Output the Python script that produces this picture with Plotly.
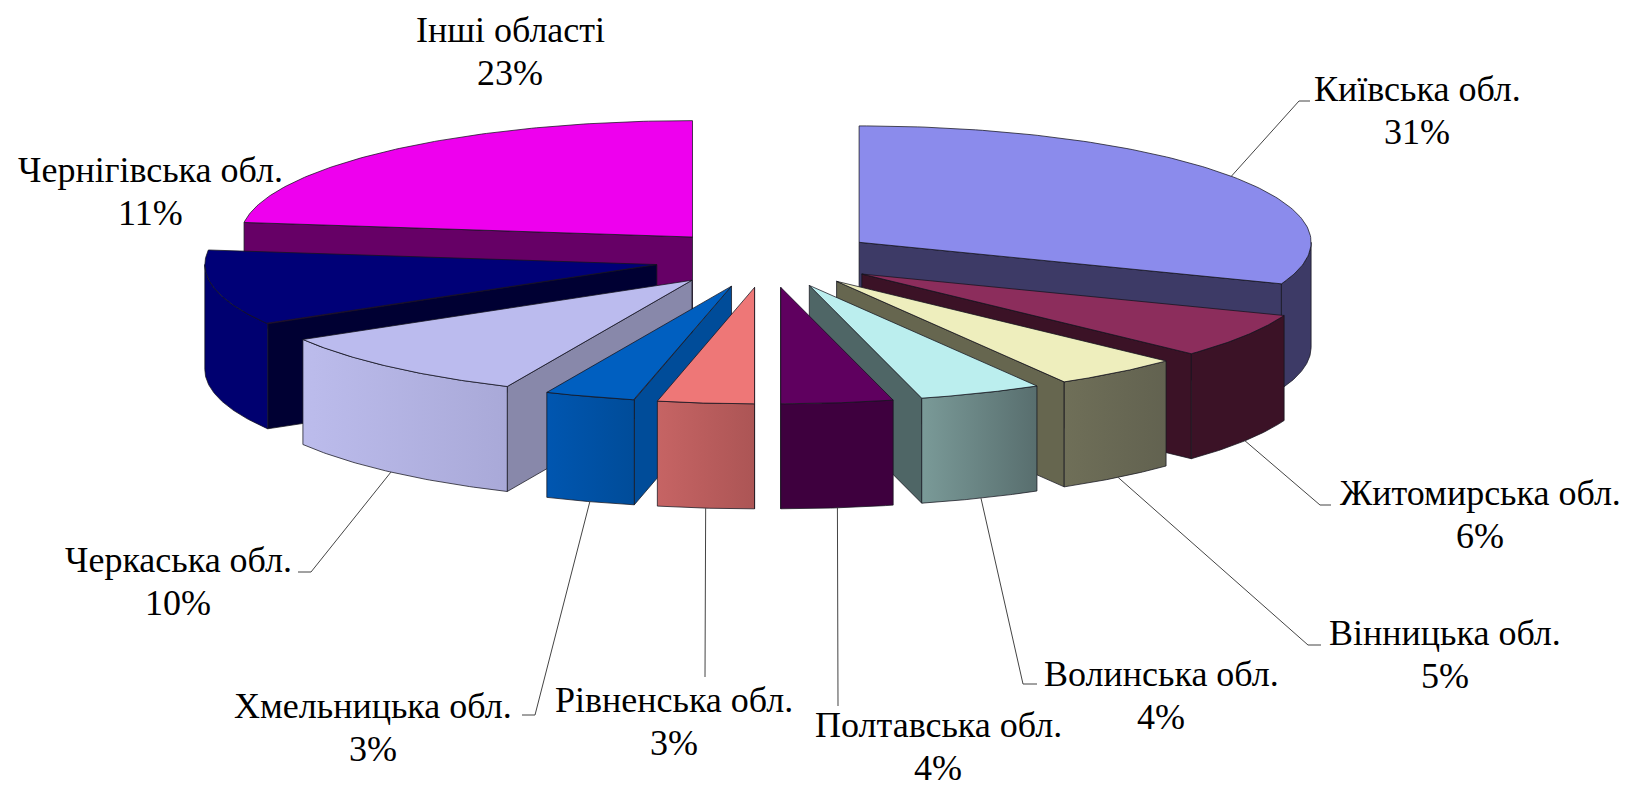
import numpy as np
import plotly.graph_objects as go

regions = ["Київська обл.", "Житомирська обл.", "Вінницька обл.", "Волинська обл.", "Полтавська обл.",
           "Рівненська обл.", "Хмельницька обл.", "Черкаська обл.", "Чернігівська обл.", "Інші області"]
shares = [30.8, 6.2, 4.6, 4.4, 4.0, 3.45, 3.25, 9.8, 10.5, 23.0]
share_labels = ["31%", "6%", "5%", "4%", "4%", "3%", "3%", "10%", "11%", "23%"]

top_colors = ["#8b8bec", "#8c2d5c", "#eeeebd", "#bbeeee", "#5f005f", "#ee7777", "#005fc0", "#bbbbee", "#000077", "#ee00ee"]
side_colors = ["#3d3a66", "#3b1226", "#66664f", "#4f6666", "#3e003e", "#c46262", "#004c99", "#8888aa", "#000033", "#660066"]
rim_left = ["#3d3a66", "#3b1226", "#6f6f58", "#7a9a98", "#3e003e", "#c66464", "#0056b0", "#bcbcec", "#000070", "#660066"]
rim_right = ["#3d3a66", "#3b1226", "#626250", "#586e6e", "#3e003e", "#ac5555", "#004c99", "#a9a9d8", "#000070", "#660066"]

label_xy = [(1417, 110), (1480, 514), (1445, 654), (1161, 695), (938, 746),
            (674, 721), (373, 727), (178, 581), (150, 191), (510, 51)]
leader_elbows = [[(1299, 101), (1310, 101)], [(1320, 505), (1331, 505)], [(1308, 645), (1321, 645)],
                 [(1023, 684), (1037, 684)], [(838, 706)], [(705, 677)],
                 [(535, 715), (522, 715)], [(311, 572), (298, 572)], [], []]

CX, CY, RX, RY, PULL, DEPTH = 766.7, 258.7, 452.0, 116.4, 112.2, 105.0
LINE_GAP = 43
FONT = "Liberation Serif, Times New Roman, serif"
OUTLINE = "rgba(20,20,30,0.75)"


def rim(ax, ay, a_deg, drop=0.0):
    t = np.radians(a_deg)
    return ax + RX * np.sin(t), ay - RY * np.cos(t) + drop


def poly(fig, xs, ys, color=None, grad=None):
    kw = dict(fillcolor=color) if grad is None else dict(
        fillgradient=dict(type="horizontal", colorscale=[[0, grad[0]], [1, grad[1]]]))
    fig.add_trace(go.Scatter(x=list(xs) + [xs[0]], y=list(ys) + [ys[0]], mode="lines", fill="toself",
                             line=dict(color=OUTLINE, width=1), hoverinfo="skip", showlegend=False, **kw))


edges = np.concatenate([[0], np.cumsum(shares)]) / np.sum(shares) * 360.0
mids = (edges[:-1] + edges[1:]) / 2
order = sorted(range(len(shares)), key=lambda i: -abs(mids[i] - 180))

fig = go.Figure()
apexes = []
for i in range(len(shares)):
    m = np.radians(mids[i])
    apexes.append((CX + PULL * np.sin(m), CY - PULL * (RY / RX) * np.cos(m)))

for i in order:
    a0, a1 = edges[i], edges[i + 1]
    ax, ay = apexes[i]
    # the radial cut face that turns towards the viewer
    cut = a1 if mids[i] < 180 else a0
    px, py = rim(ax, ay, cut)
    poly(fig, [ax, px, px, ax], [ay, py, py + DEPTH, ay + DEPTH], side_colors[i])
    # the curved outer face on the front half
    f0, f1 = max(a0, 90.0), min(a1, 270.0)
    if f1 > f0:
        th = np.linspace(f0, f1, 60)
        ux, uy = rim(ax, ay, th)
        poly(fig, np.r_[ux, ux[::-1]], np.r_[uy, uy[::-1] + DEPTH], grad=(rim_left[i], rim_right[i]))
    # the top face
    th = np.linspace(a0, a1, 120)
    ux, uy = rim(ax, ay, th)
    poly(fig, np.r_[ax, ux], np.r_[ay, uy], top_colors[i])

# leader lines run from the slice rim at its mid angle
for i, elbow in enumerate(leader_elbows):
    if not elbow:
        continue
    ax, ay = apexes[i]
    front = 90 <= mids[i] <= 270
    sx, sy = rim(ax, ay, mids[i], DEPTH if front else 0.0)
    fig.add_trace(go.Scatter(x=[sx] + [p[0] for p in elbow], y=[sy] + [p[1] for p in elbow], mode="lines",
                             line=dict(color="#444444", width=1), hoverinfo="skip", showlegend=False))

for name, pct, (lx, ly) in zip(regions, share_labels, label_xy):
    fig.add_annotation(x=lx, y=ly - LINE_GAP / 2, text=name, showarrow=False,
                       font=dict(family=FONT, size=36, color="black"))
    fig.add_annotation(x=lx, y=ly + LINE_GAP / 2, text=pct, showarrow=False,
                       font=dict(family=FONT, size=36, color="black"))

fig.update_layout(width=1629, height=789, margin=dict(l=0, r=0, t=0, b=0),
                  paper_bgcolor="white", plot_bgcolor="white",
                  xaxis=dict(range=[0, 1629], visible=False, fixedrange=True),
                  yaxis=dict(range=[789, 0], visible=False, fixedrange=True))
fig.write_html("out.html", post_script="document.body.style.margin='0';",
               config=dict(displayModeBar=False))
